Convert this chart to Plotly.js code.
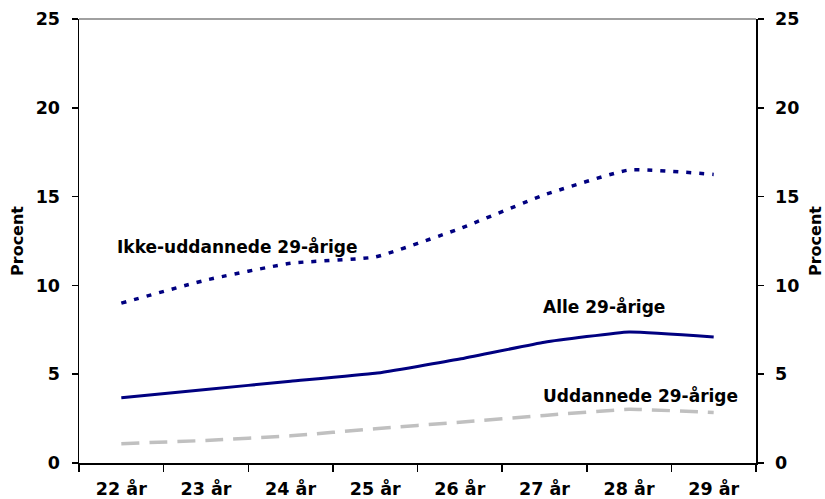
<!DOCTYPE html>
<html>
<head>
<meta charset="utf-8">
<script src="https://cdn.plot.ly/plotly-3.0.1.min.js"></script>
<style>html,body{margin:0;padding:0;background:#fff;}#chart{width:825px;height:499px;}</style>
</head>
<body>
<div id="chart"></div>
<script>
const categories = ["22 år","23 år","24 år","25 år","26 år","27 år","28 år","29 år"];
const ikkeUddannede = [9.0, 10.3, 11.25, 11.6, 13.2, 15.1, 16.5, 16.25];
const alle = [3.67, 4.14, 4.6, 5.05, 5.85, 6.8, 7.38, 7.1];
const uddannede = [1.09, 1.27, 1.53, 1.93, 2.3, 2.68, 3.02, 2.84];
const yTicks = [0, 5, 10, 15, 20, 25];
const labels = ["Ikke-uddannede 29-årige", "Alle 29-årige", "Uddannede 29-årige"];

const FONT = "DejaVu Sans, Verdana, sans-serif";
const navy = "#000080";

const traces = [
  {x: categories, y: uddannede, type: "scatter", mode: "lines", yaxis: "y",
   line: {color: "#c0c0c0", width: 3.5, dash: "18px,10px", shape: "spline", smoothing: 0.4}, hoverinfo: "skip"},
  {x: categories, y: alle, type: "scatter", mode: "lines", yaxis: "y",
   line: {color: navy, width: 3, shape: "spline", smoothing: 0.35}, hoverinfo: "skip"},
  {x: categories, y: ikkeUddannede, type: "scatter", mode: "lines", yaxis: "y2",
   line: {color: navy, width: 3.5, dash: "5px,8px", shape: "spline", smoothing: 0.4}, hoverinfo: "skip"}
];

const yCommon = {
  range: [0, 25], tickvals: yTicks, ticktext: yTicks.map(String),
  showgrid: false, zeroline: false, showline: true, linecolor: "#000", linewidth: 1.5,
  ticks: "outside", ticklen: 6, tickcolor: "#000", tickwidth: 1.5,
  ticklabelstandoff: 8,
  tickfont: {family: FONT, size: 17.5, color: "#000", weight: "bold"},
  fixedrange: true
};

const layout = {
  width: 825, height: 499,
  margin: {l: 79, r: 69, t: 19, b: 36},
  paper_bgcolor: "#fff", plot_bgcolor: "#fff",
  showlegend: false,
  xaxis: {
    type: "category", categoryarray: categories, range: [-0.5, 7.5],
    tickson: "boundaries", ticks: "outside", ticklen: 7, tickcolor: "#000", tickwidth: 1.5,
    showline: true, linecolor: "#000", linewidth: 1.5, showgrid: false, zeroline: false,
    ticklabelstandoff: 9,
    tickfont: {family: FONT, size: 17.5, color: "#000", weight: "bold"},
    fixedrange: true
  },
  yaxis: Object.assign({}, yCommon, {side: "left",
    title: {text: "<b>Procent</b>", font: {family: FONT, size: 16, color: "#000"}, standoff: 8}}),
  yaxis2: Object.assign({}, yCommon, {side: "right", overlaying: "y", anchor: "x",
    title: {text: "<b>Procent</b>", font: {family: FONT, size: 16, color: "#000"}, standoff: 12}}),
  shapes: [
    {type: "line", xref: "paper", yref: "paper", x0: 0, x1: 1, y0: 1, y1: 1,
     line: {color: "#808080", width: 1.5}}
  ],
  annotations: [
    {x: 1.37, y: 12.2, xref: "x", yref: "y", text: "<b>" + labels[0] + "</b>", showarrow: false,
     font: {family: FONT, size: 17, color: "#000"}},
    {x: 5.70, y: 8.8, xref: "x", yref: "y", text: "<b>" + labels[1] + "</b>", showarrow: false,
     font: {family: FONT, size: 17, color: "#000"}},
    {x: 6.14, y: 3.8, xref: "x", yref: "y", text: "<b>" + labels[2] + "</b>", showarrow: false,
     font: {family: FONT, size: 17, color: "#000"}}
  ]
};

Plotly.newPlot("chart", traces, layout, {displayModeBar: false, staticPlot: true});
</script>
</body>
</html>
